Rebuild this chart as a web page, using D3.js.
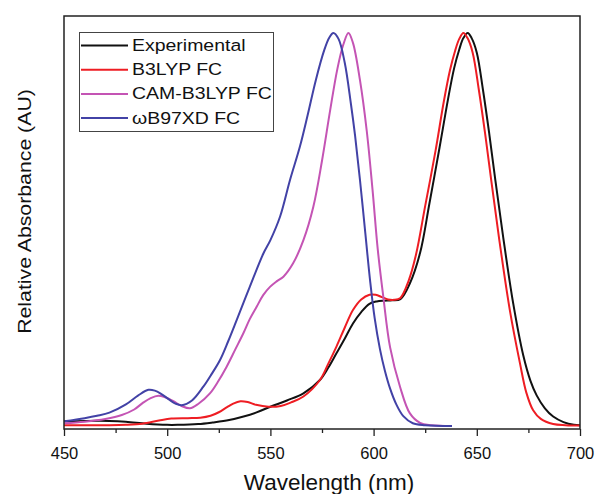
<!DOCTYPE html>
<html>
  <head>
    <meta charset="utf-8">
    <title>Relative absorbance spectra</title>
    <script src="https://cdn.jsdelivr.net/npm/d3@7"></script>
    <style>
      body { margin: 0; background: #fff; }
      svg { display: block; font-family: "Liberation Sans", Arial, sans-serif; }
      .curve { fill: none; stroke-width: 2; stroke-linejoin: round; }
      .tick line { stroke: #222; stroke-width: 1.3; }
      .domain { display: none; }
    </style>
  </head>

  <body>
    <svg id="chart" width="598" height="494"></svg>

    <script>
      // data (wavelength in nm, absorbance normalised)
      const expNm = [450, 460, 472, 480, 490, 500, 505, 515, 522, 530, 537, 543, 550, 558, 566, 574, 578, 582, 586, 590, 594, 598, 601.5, 605, 609, 613, 617.5, 622.5, 627, 632, 636, 639, 641.5, 643.5, 645.6, 647.5, 650, 653, 656, 659, 662.8, 667.7, 672.5, 676, 679, 683, 687, 692, 697, 700];
      const expAbs = [0.012, 0.013, 0.013, 0.011, 0.006, 0.003, 0.003, 0.005, 0.009, 0.015, 0.024, 0.034, 0.049, 0.065, 0.083, 0.117, 0.148, 0.185, 0.222, 0.261, 0.290, 0.311, 0.317, 0.319, 0.320, 0.323, 0.362, 0.440, 0.565, 0.710, 0.830, 0.910, 0.958, 0.987, 1.000, 0.987, 0.950, 0.855, 0.745, 0.625, 0.480, 0.310, 0.180, 0.115, 0.078, 0.045, 0.024, 0.010, 0.003, 0.002];

      const b3lypNm = [450, 460, 472, 480, 488, 496, 502, 510, 516, 521, 525, 529, 532, 535.5, 539, 543, 549, 555, 560, 566, 574, 578, 582, 586, 590, 594, 598, 601, 604, 607, 610, 613, 617, 620.5, 625, 630, 634, 637, 639.5, 641.5, 643.5, 645.5, 648, 651, 654, 657, 661, 666, 670.9, 674, 677.3, 681, 687, 693, 700];
      const b3lypAbs = [0.002, 0.002, 0.002, 0.003, 0.006, 0.014, 0.019, 0.020, 0.021, 0.026, 0.035, 0.048, 0.057, 0.063, 0.061, 0.054, 0.049, 0.051, 0.060, 0.075, 0.117, 0.158, 0.202, 0.250, 0.295, 0.322, 0.334, 0.334, 0.328, 0.322, 0.321, 0.326, 0.370, 0.435, 0.560, 0.700, 0.825, 0.905, 0.955, 0.985, 1.000, 0.987, 0.950, 0.855, 0.745, 0.625, 0.470, 0.295, 0.160, 0.085, 0.040, 0.018, 0.005, 0.002, 0.001];

      const camNm = [450, 460, 470, 478, 484, 488.5, 492, 495.7, 499, 503, 507, 511, 515, 520.7, 524.5, 528.8, 533, 536.9, 540, 543.4, 546.5, 549.8, 553, 556.3, 561, 566, 570.8, 575, 579, 582.5, 585.3, 587.8, 590, 593.4, 596.7, 599.5, 602, 604.7, 608, 612.8, 617.6, 622.5, 628, 638];
      const camAbs = [0.007, 0.011, 0.018, 0.028, 0.042, 0.060, 0.071, 0.077, 0.073, 0.063, 0.051, 0.045, 0.056, 0.083, 0.112, 0.151, 0.195, 0.236, 0.272, 0.304, 0.333, 0.354, 0.368, 0.380, 0.414, 0.473, 0.558, 0.675, 0.805, 0.910, 0.970, 1.000, 0.975, 0.880, 0.750, 0.600, 0.450, 0.329, 0.200, 0.100, 0.032, 0.008, 0.002, 0.000];

      const wbNm = [450, 460, 466, 472, 480, 486, 490.9, 494, 497, 501, 504, 507, 512, 517.5, 521.5, 525.6, 529.5, 533.7, 540, 546.6, 550, 554.7, 559.5, 564.3, 568, 572, 576, 578.5, 580.5, 583, 586, 589, 591, 593.4, 596, 598.3, 600.5, 603.1, 605.5, 608, 611, 614.4, 619, 625, 638];
      const wbAbs = [0.012, 0.020, 0.026, 0.034, 0.055, 0.078, 0.092, 0.090, 0.082, 0.067, 0.057, 0.053, 0.065, 0.100, 0.132, 0.168, 0.215, 0.270, 0.354, 0.439, 0.473, 0.533, 0.626, 0.711, 0.790, 0.880, 0.955, 0.988, 1.000, 0.985, 0.925, 0.820, 0.740, 0.626, 0.490, 0.370, 0.275, 0.195, 0.140, 0.095, 0.055, 0.025, 0.007, 0.002, 0.000];

      const seriesNames = ["Experimental", "B3LYP FC", "CAM-B3LYP FC", "\u03c9B97XD FC"];
      const seriesColours = ["#111111", "#ee1d23", "#c454b4", "#4242a6"];

      const majorTicks = [450, 500, 550, 600, 650, 700];
      const minorTicks = [475, 525, 575, 625, 675];

      const series = [
        { nm: expNm, abs: expAbs },
        { nm: b3lypNm, abs: b3lypAbs },
        { nm: camNm, abs: camAbs },
        { nm: wbNm, abs: wbAbs }
      ];

      // layout
      const plotLeft = 64, plotRight = 580, plotTop = 16, plotBottom = 429;

      const svg = d3.select("#chart");

      const x = d3.scaleLinear()
        .domain([450, 700])
        .range([plotLeft, plotRight]);

      const y = d3.scaleLinear()
        .domain([0, 1])
        .range([426, 33]);

      // axes
      svg.append("g")
        .attr("transform", "translate(0," + plotBottom + ")")
        .call(d3.axisBottom(x).tickValues(minorTicks).tickSize(4).tickFormat(""));

      const xAxis = svg.append("g")
        .attr("transform", "translate(0," + plotBottom + ")")
        .call(d3.axisBottom(x).tickValues(majorTicks).tickSize(7).tickPadding(23).tickFormat(d3.format("d")));
      xAxis.selectAll("text")
        .attr("dy", 0)
        .style("font-size", "16.5px")
        .style("fill", "#111");

      // curves
      const line = d3.line()
        .x(function(d) { return x(d[0]); })
        .y(function(d) { return y(d[1]); })
        .curve(d3.curveCatmullRom.alpha(0.5));

      svg.selectAll(".curve")
        .data(series)
        .enter().append("path")
          .classed("curve", true)
          .attr("stroke", function(d, i) { return seriesColours[i]; })
          .attr("d", function(d) { return line(d.nm.map(function(n, j) { return [n, d.abs[j]]; })); });

      // frame
      svg.append("rect")
        .attr("x", plotLeft)
        .attr("y", plotTop)
        .attr("width", plotRight - plotLeft)
        .attr("height", plotBottom - plotTop)
        .attr("fill", "none")
        .attr("stroke", "#222")
        .attr("stroke-width", 1.5);

      // titles
      svg.append("text")
        .attr("x", 329)
        .attr("y", 490)
        .attr("text-anchor", "middle")
        .style("font-size", "22.5px")
        .style("fill", "#111")
        .text("Wavelength (nm)");

      svg.append("text")
        .attr("transform", "translate(31,211.5) rotate(-90) scale(1.12,1)")
        .attr("text-anchor", "middle")
        .style("font-size", "19px")
        .style("fill", "#111")
        .text("Relative Absorbance (AU)");

      // legend
      const legend = svg.append("g");
      legend.append("rect")
        .attr("x", 79.5)
        .attr("y", 32.5)
        .attr("width", 194)
        .attr("height", 99)
        .attr("fill", "#fff")
        .attr("stroke", "#444")
        .attr("stroke-width", 1);

      const rows = legend.selectAll(".row")
        .data(seriesNames)
        .enter().append("g")
          .attr("transform", function(d, i) { return "translate(0," + (51 + i * 24.2) + ")"; });
      rows.append("line")
        .attr("x1", 81)
        .attr("x2", 128)
        .attr("y1", -5.5)
        .attr("y2", -5.5)
        .attr("stroke", function(d, i) { return seriesColours[i]; })
        .attr("stroke-width", 2);
      rows.append("text")
        .attr("transform", "translate(132,0) scale(1.18,1)")
        .style("font-size", "16.5px")
        .style("fill", "#111")
        .text(function(d) { return d; });
    </script>
  </body>
</html>
